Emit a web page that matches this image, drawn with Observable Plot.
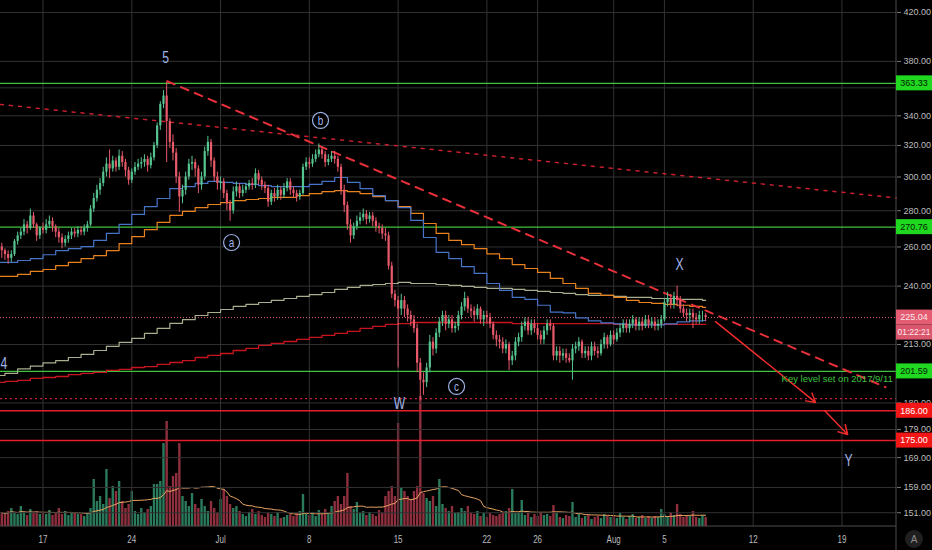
<!DOCTYPE html>
<html><head><meta charset="utf-8">
<script src="https://cdn.jsdelivr.net/npm/d3@7"></script>
<script src="https://cdn.jsdelivr.net/npm/@observablehq/plot@0.6"></script>
<style>
html,body{margin:0;padding:0;background:#000;}
#wrap{position:relative;width:932px;height:550px;background:#000;overflow:hidden;}
#wrap svg{position:absolute;left:0;top:0;}
</style></head><body><div id="wrap"></div>
<script>
// ---------- DATA (ETH/USD, 6h candles) ----------
const firstOpen = 260;
const closes = [
258,
256,254,256,263, 266,268,272,270, 277,272,266,270, 269,272,274,271,
268,265,262,264, 266,268,267,269, 268,270,272,281, 287,292,296,303,
308,305,310,306, 313,309,304,298, 303,306,308,309, 311,307,312,320,
333,348,354,336, 322,315,300,288, 292,300,308,309, 305,295,300,316,
322,310,300,296,
297,290,284,280, 291,294,290,292, 294,296,295,302, 298,295,293,285,
290,288,292,289, 293,297,292,290, 288,290,306,309, 308,311,314,317,
314,309,311,313, 311,306,292,283, 272,266,271,274, 276,278,275,277,
274,271,270,267, 266,250,236,233, 229,233,229,226, 224,220,205,198,
197,203,214,211, 218,223,226,222, 224,220,221,226, 230,234,229,228,
226,229,224,226, 225,222,217,215, 214,211,213,206, 208,214,216,221,
223,219,222,220, 217,215,219,222, 221,208,210,208, 209,207,206,211,
212,214,209,210, 208,212,210,209, 213,216,213,217,
215,218,220,222, 220,222,224,221, 223,221,224,222, 223,221,222,224,
232,234,231,235, 233,229,227,226, 227,225,224,226,
226,225.04];
const highs = [
262,
259,258,258,264, 268,270,275,274, 281,279,273,271, 273,275,277,276,
272,270,267,266, 268,270,270,271, 271,272,274,283, 290,295,299,306,
312,317,313,312, 317,316,311,306, 305,309,311,312, 314,313,315,322,
335,350,358,364, 338,327,318,303, 295,303,311,313, 311,307,303,319,
326,324,312,303,
300,299,292,286, 294,297,296,295, 296,298,299,305, 304,300,297,295,
292,293,295,294, 296,299,299,294, 292,292,308,312, 312,314,317,321,
319,316,314,316, 316,313,308,295, 285,275,273,277, 279,281,280,279,
279,276,273,272, 270,268,252,238, 235,236,235,231, 228,226,222,207,
201,205,217,216, 220,225,228,228, 226,226,223,228, 232,237,235,231,
230,231,230,228, 228,227,223,219, 217,216,215,214, 210,216,218,223,
225,225,224,224, 222,219,221,224, 224,222,212,212, 211,211,209,213,
214,216,215,212, 212,214,214,212, 215,218,217,219,
219,220,222,224, 224,224,226,225, 225,225,226,226, 225,225,224,226,
234,237,236,237, 240,235,231,229, 229,229,227,228,
228,227];
const lows = [
254,
253,251,252,255, 261,264,266,267, 269,270,263,264, 267,267,270,268,
265,262,259,260, 262,264,265,265, 266,266,268,271, 279,285,289,294,
300,299,303,303, 304,306,300,295, 296,301,304,305, 306,303,305,310,
318,330,345,309, 318,310,296,279, 284,289,298,304, 300,290,292,298,
313,306,297,292,
292,287,280,274, 278,288,287,288, 290,292,292,293, 295,292,290,282,
283,285,286,286, 287,291,289,287, 285,286,289,304, 305,306,309,312,
311,306,307,309, 308,303,289,279, 269,262,264,269, 272,274,272,273,
271,268,267,264, 263,248,234,230, 203,226,225,223, 221,218,201,190,
192,195,201,208, 209,216,221,219, 220,218,218,219, 224,228,227,225,
223,224,222,221, 222,220,215,212, 211,209,209,202, 204,206,212,214,
219,217,217,218, 215,213,213,217, 219,206,206,205, 206,205,205,198,
209,210,207,207, 206,206,208,207, 208,211,211,212,
213,214,216,218, 218,218,220,219, 219,219,220,220, 220,219,219,220,
223,230,229,229, 230,227,225,223, 223,220,222,222,
223,223];
const volumes = [
14,
12,15,18,13, 12,20,14,11, 17,13,15,12, 14,12,16,11,
13,18,12,15, 11,14,13,12, 12,10,13,18, 47,25,30,22,
57,28,40,35, 45,25,18,22, 35,15,12,18, 13,17,20,42,
42,45,83,105, 40,50,53,83, 30,25,20,33, 22,18,27,20,
15,25,18,13,
27,37,30,22, 18,20,15,12, 10,14,17,12, 15,11,9,13,
12,10,14,8, 9,11,12,10, 13,15,32,12, 11,14,10,16,
12,17,13,20, 25,30,22,30, 53,20,17,24, 13,15,11,14,
12,10,16,13, 30,35,40,30, 103,38,35,30, 27,35,40,130,
33,28,25,30, 20,47,22,18, 15,20,13,14, 18,15,20,13,
12,15,10,13, 9,13,11,10, 12,14,15,18, 37,13,14,26,
11,13,9,12, 10,14,11,12, 10,21,13,9, 8,11,10,24,
9,12,8,10, 11,7,9,10, 8,12,10,9,
10,8,13,9, 7,10,12,8, 9,11,8,10, 8,10,9,17,
12,10,14,11, 22,12,9,11, 10,15,9,8,
11,9];
// daily moving averages, Jun 13 .. Aug 8
const blueMA = [251.9,251.9,252.9,253.9,255.9,258.1,259.1,260.2,263.5,267.3,272.3,277.9,282.4,287.1,293.0,294.2,296.1,297.3,296.7,296.1,295.5,294.8,294.2,294.2,294.2,295.5,297.3,299.7,296.7,293.0,288.8,285.9,281.8,274.5,265.1,257.1,253.9,249.8,246.3,241.3,237.9,234.5,233.6,230.8,227.6,227.2,224.9,223.5,222.6,222.2,221.7,221.7,221.7,222.2,223.1,223.5,223.7];
const orangeMA = [244.8,244.8,245.8,247.3,248.3,250.3,251.9,253.9,255.4,258.1,261.8,265.6,269.4,273.4,277.4,279.6,281.8,283.6,284.7,285.9,286.5,287.1,287.7,287.7,288.8,290.0,291.2,291.8,291.2,290.0,288.2,285.9,282.4,278.5,272.8,267.3,263.5,261.3,259.1,256.4,253.9,250.8,248.8,246.8,243.8,241.3,238.9,236.5,235.5,234.5,233.1,232.1,231.7,231.2,230.8,230.3,229.8];
const khakiMA = [199.9,200.8,202.6,203.8,205.1,206.1,207.4,208.7,210.4,212.2,213.9,215.7,217.9,220.1,222.4,224.1,226.0,227.4,228.8,230.3,231.2,232.1,233.1,234.0,235.0,235.9,236.9,238.4,239.4,240.4,240.8,241.3,241.8,241.3,241.3,240.8,240.4,239.9,239.4,238.9,238.9,238.4,237.9,237.4,236.9,236.5,235.9,235.5,235.5,235.0,234.5,234.5,234.0,234.0,233.6,233.6,233.1];
const redMA = [197.1,197.5,197.9,198.7,199.1,199.5,200.3,200.8,201.2,202.0,202.4,203.2,203.6,204.5,205.3,206.1,207.4,208.3,209.1,210.4,211.3,212.6,213.5,214.3,215.2,216.1,217.0,217.9,218.8,220.1,221.0,221.9,222.3,222.8,222.8,222.8,222.8,222.8,222.8,222.8,222.8,222.3,222.3,222.3,222.3,222.3,222.3,222.3,222.3,221.9,221.9,221.9,221.9,221.9,221.9,221.9,221.9];
// axes
const yGridTicks = [420,380,360,340,320,300,280,260,240,213,189,179,169,159,151];
const yTicks = [420,380,340,320,300,280,260,240,213,189,179,169,159,151];
const xTickDates = ["2019-06-17","2019-06-24","2019-07-01","2019-07-08","2019-07-15","2019-07-22","2019-07-26","2019-08-01","2019-08-05","2019-08-12","2019-08-19"];
const xTickLabels = ["17","24","Jul","8","15","22","26","Aug","5","12","19"];
// levels and drawings
const greenLevels = [363.33, 270.76, 201.59];
const redLevels = [186.00, 175.00];
const lastPrice = 225.04;
const countdown = "01:22:21";
const dottedLevel = 190.7;
const dashedTrend = [{date:"2019-06-26T19:00Z", price:364.9},{date:"2019-08-22T10:30Z", price:195.2}];
const dottedTrend = [{date:"2019-06-13T15:30Z", price:348.0},{date:"2019-08-23T07:00Z", price:287.4}];
const arrows = [
  {x1:"2019-08-09T00:45Z", y1:223.2, x2:"2019-08-16T22:00Z", y2:189.2},
  {x1:"2019-08-17T15:00Z", y1:186.1, x2:"2019-08-19T10:45Z", y2:177.2}];
const waveLabels = [
  {label:"5", date:"2019-06-26T15:50Z", price:383.1},
  {label:"W", date:"2019-07-15T02:50Z", price:188.8},
  {label:"X", date:"2019-08-06T04:50Z", price:250.8},
  {label:"Y", date:"2019-08-19T12:30Z", price:168.0}];
const edgeLabel = [{label:"4", date:"2019-06-13T15:30Z", price:204.9}];
const circled = [
  {label:"a", date:"2019-07-01T20:50Z", price:262.4},
  {label:"b", date:"2019-07-08T21:10Z", price:336.8},
  {label:"c", date:"2019-07-19T14:40Z", price:195.5}];
const keyLevel = [{label:"Key level set on 2017/9/11", date:"2019-08-14T05:45Z", price:198.7}];

// ---------- BUILD ----------
const H6 = 6*3600e3, DAY = 24*3600e3;
const t0 = Date.UTC(2019,5,13,18);
const UP = "#56c48f", DOWN = "#e85a6a";
const candles = closes.map((c,i)=>({
  date:new Date(t0+i*H6), open: i ? closes[i-1] : firstOpen, close:c,
  high:highs[i], low:lows[i], vol:volumes[i]}));
const d0 = Date.UTC(2019,5,13);
const maRows = blueMA.map((b,k)=>({date:new Date(d0+k*DAY), blue:b, orange:orangeMA[k], khaki:khakiMA[k], red:redMA[k]}));
const lastRow = maRows[maRows.length-1];
maRows.push({...lastRow, date: candles[candles.length-1].date});
const toD = a => a.map(o=>({...o, date:new Date(o.date)}));
const arrowRows = arrows.map(a=>({...a, x1:new Date(a.x1), x2:new Date(a.x2)}));
const tickDates = xTickDates.map(s=>new Date(s+"T00:00Z"));
const labelMap = new Map(tickDates.map((d,i)=>[+d, xTickLabels[i]]));

const jun17 = Date.UTC(2019,5,17);
const xDomain = [new Date(jun17 - 3.352*DAY), new Date(jun17 + 67.30*DAY)];
const yDomain = [146.8, 430.4];
const W=932, H=550, mR=36, mB=24;
const FONT = "'Liberation Sans', Arial, sans-serif";

const volPlot = Plot.plot({
  width:W, height:H, marginLeft:0, marginRight:mR, marginTop:0, marginBottom:mB,
  style:{background:"transparent"},
  x:{type:"utc", domain:xDomain, axis:null},
  y:{domain:[0,526], axis:null},
  color:{type:"identity"},
  marks:[
    Plot.ruleX(candles,{x:"date", y1:0, y2:"vol", stroke:d=>d.close>=d.open?"#2a7a5c":"#8e2f3e", strokeWidth:2.4}),
    Plot.lineY(candles, Plot.windowY({k:20, anchor:"end", reduce:"mean"}, {x:"date", y:"vol", stroke:"#eaa562", strokeWidth:1}))
  ]
});

const GRID = "#323232";
const mainPlot = Plot.plot({
  width:W, height:H, marginLeft:0, marginRight:mR, marginTop:0, marginBottom:mB,
  style:{background:"transparent", color:"#bcbcbc", fontSize:"10.5px", fontFamily:FONT},
  x:{type:"utc", domain:xDomain, label:null},
  y:{type:"log", domain:yDomain, label:null},
  color:{type:"identity"},
  marks:[
    Plot.gridY(yGridTicks,{stroke:GRID, strokeOpacity:1}),
    Plot.gridX(tickDates,{stroke:GRID, strokeOpacity:1}),
    Plot.ruleY(greenLevels,{stroke:"#3fc23f", strokeWidth:1.3}),
    Plot.ruleY(redLevels,{stroke:"#e31e2a", strokeWidth:1.5}),
    Plot.ruleY([dottedLevel],{stroke:"#c4213c", strokeWidth:1.2, strokeDasharray:"2,3"}),
    Plot.ruleY([lastPrice],{stroke:"#e0607a", strokeWidth:1, strokeDasharray:"1,2"}),
    Plot.line(maRows,{x:"date", y:"khaki", curve:"step-after", stroke:"#a9ae8e", strokeWidth:1.2, clip:true}),
    Plot.line(maRows,{x:"date", y:"red", curve:"step-after", stroke:"#c8141e", strokeWidth:1.3, clip:true}),
    Plot.line(maRows,{x:"date", y:"orange", curve:"step-after", stroke:"#e8821f", strokeWidth:1.2, clip:true}),
    Plot.line(maRows,{x:"date", y:"blue", curve:"step-after", stroke:"#4874c8", strokeWidth:1.2, clip:true}),
    Plot.line(toD(dashedTrend),{x:"date", y:"price", stroke:"#e8303a", strokeWidth:2, strokeDasharray:"8,7"}),
    Plot.line(toD(dottedTrend),{x:"date", y:"price", stroke:"#c81f2e", strokeWidth:1.5, strokeDasharray:"3,6"}),
    Plot.ruleX(candles,{x:"date", y1:"low", y2:"high", stroke:d=>d.close>=d.open?UP:DOWN, strokeWidth:1}),
    Plot.ruleX(candles,{x:"date", y1:"open", y2:"close", stroke:d=>d.close>=d.open?UP:DOWN, strokeWidth:2.2}),
    Plot.arrow(arrowRows,{x1:"x1", y1:"y1", x2:"x2", y2:"y2", stroke:"#ef2b2b", strokeWidth:1.5, headLength:10}),
    Plot.text(toD(waveLabels),{x:"date", y:"price", text:"label", fill:"#a3b5ea", fontSize:16}),
    Plot.text(toD(edgeLabel),{x:"date", y:"price", text:"label", fill:"#a3b5ea", fontSize:16, textAnchor:"start"}),
    Plot.dot(toD(circled),{x:"date", y:"price", r:8, stroke:"#9db0e4", strokeWidth:1.2, fill:"#000"}),
    Plot.text(toD(circled),{x:"date", y:"price", text:"label", fill:"#a3b5ea", fontSize:13}),
    Plot.text(toD(keyLevel),{x:"date", y:"price", text:"label", fill:"#3fc23f", fontSize:9.5, textAnchor:"start"}),
    Plot.axisY(yTicks,{anchor:"right", tickSize:4, tickPadding:3, tickFormat:d=>d.toFixed(2), stroke:"#777"}),
    Plot.axisX(tickDates,{tickSize:0, tickPadding:9, tickFormat:d=>labelMap.get(+d)})
  ]
});

const wrap = document.getElementById("wrap");
wrap.appendChild(volPlot);
wrap.appendChild(mainPlot);

// condensed look for the single-glyph labels and date labels
const squishSet = new Set([...xTickLabels, ...waveLabels.map(d=>d.label), ...edgeLabel.map(d=>d.label), ...circled.map(d=>d.label)]);
mainPlot.querySelectorAll("text").forEach(t=>{
  const s = t.textContent;
  if (/^\d+\.\d\d$/.test(s)) { t.setAttribute("font-size", 9); return; }
  if (squishSet.has(s)) {
    const len = t.getComputedTextLength();
    if (len > 0) { t.setAttribute("textLength",(len*0.76).toFixed(2)); t.setAttribute("lengthAdjust","spacingAndGlyphs"); }
  }
});

// axis border lines, price boxes, auto-scale button
const ys = mainPlot.scale("y"), xs = mainPlot.scale("x");
const svg = d3.select(mainPlot);
const xr = xs.apply(xDomain[1]), yb = ys.apply(yDomain[0]);
svg.append("line").attr("x1",xr).attr("x2",xr).attr("y1",0).attr("y2",H).attr("stroke","#4d4d4d");
svg.append("line").attr("x1",0).attr("x2",xr).attr("y1",yb).attr("y2",yb).attr("stroke","#4d4d4d");
const boxes = [
  {v:363.33, fill:"#1fd81f", ink:"#042204"},
  {v:270.76, fill:"#1fd81f", ink:"#042204"},
  {v:201.59, fill:"#1fd81f", ink:"#042204"},
  {v:lastPrice, fill:"#e35c72", ink:"#ffe8ec"},
  {v:186.00, fill:"#f21616", ink:"#ffffff"},
  {v:175.00, fill:"#f21616", ink:"#ffffff"}];
boxes.forEach(b=>{
  const cy = ys.apply(b.v);
  svg.append("rect").attr("x",xr).attr("y",cy-7.5).attr("width",W-xr).attr("height",15).attr("fill",b.fill);
  svg.append("text").attr("x",xr+18).attr("y",cy).attr("dy","0.36em").attr("text-anchor","middle")
    .attr("fill",b.ink).attr("font-size",9).attr("font-family",FONT).text(b.v.toFixed(2));
});
{
  const cy = ys.apply(lastPrice)+15;
  svg.append("rect").attr("x",xr).attr("y",cy-7.5).attr("width",W-xr).attr("height",15).attr("fill","#d9566c");
  svg.append("text").attr("x",xr+18).attr("y",cy).attr("dy","0.36em").attr("text-anchor","middle")
    .attr("fill","#ffe8ec").attr("font-size",8.5).attr("font-family",FONT).text(countdown);
}
svg.append("circle").attr("cx",(xr+W)/2).attr("cy",(yb+H)/2+1).attr("r",9).attr("fill","#1f1f1f");
svg.append("text").attr("x",(xr+W)/2).attr("y",(yb+H)/2+1).attr("dy","0.36em").attr("text-anchor","middle")
  .attr("fill","#8c8c8c").attr("font-size",10).attr("font-family",FONT).text("A");
</script></body></html>
